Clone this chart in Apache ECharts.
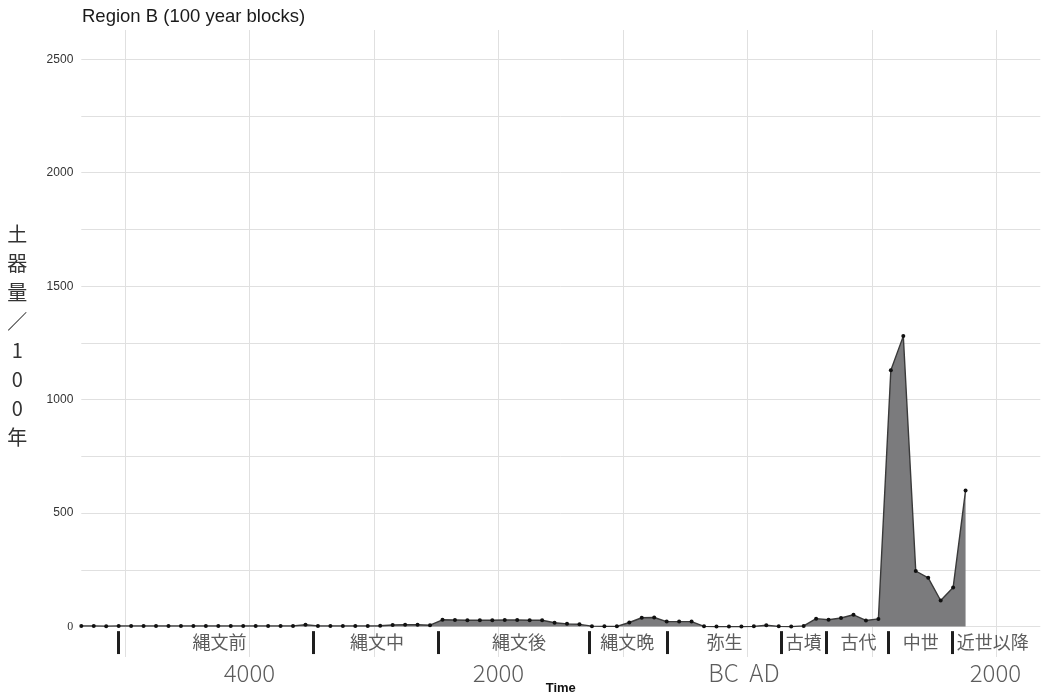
<!DOCTYPE html>
<html><head><meta charset="utf-8">
<script src="https://cdn.jsdelivr.net/npm/echarts@6/dist/echarts.min.js"></script>
<style>html,body{margin:0;padding:0;background:#fff}#c{width:1041px;height:700px}</style>
</head><body><div id="c"></div>
<script>
const years = [
  -5350,-5250,-5150,-5050,-4950,-4850,-4750,-4650,-4550,-4450,
  -4350,-4250,-4150,-4050,-3950,-3850,-3750,-3650,-3550,-3450,
  -3350,-3250,-3150,-3050,-2950,-2850,-2750,-2650,-2550,-2450,
  -2350,-2250,-2150,-2050,-1950,-1850,-1750,-1650,-1550,-1450,
  -1350,-1250,-1150,-1050,-950,-850,-750,-650,-550,-450,
  -350,-250,-150,-50,50,150,250,350,450,550,
  650,750,850,950,1050,1150,1250,1350,1450,1550,
  1650,1750
];
const counts = [
  3,3,2,3,3,3,3,3,3,3,
  3,3,3,3,3,3,3,3,8,3,
  3,3,3,3,4,7,8,8,6,30,
  29,28,28,28,29,29,28,28,17,12,
  10,2,1,1,18,39,40,22,22,22,
  1,0,0,0,1,6,1,0,3,35,
  30,38,52,27,34,1130,1280,245,215,115,
  172,600
];
const yTickLabels = [0,500,1000,1500,2000,2500];
const yGridValues = [0,250,500,750,1000,1250,1500,1750,2000,2250,2500];
const xGridYears = [-5000,-4000,-3000,-2000,-1000,0,1000,2000];
const periodNames = ['縄文前','縄文中','縄文後','縄文晩','弥生','古墳','古代','中世','近世以降'];
const periodLabelYears = [-4240,-2975,-1835,-967,-186,450,890,1391,1969];
const periodBoundaryYears = [-5050,-3485,-2480,-1268,-645,270,633,1133,1642];
const eraLabels = ['4000','2000','BC  AD','2000'];
const eraLabelYears = [-4000,-2000,-30,1990];

const Y_MIN = -134, Y_MAX = 2629;
const PERIOD_LABEL_Y = -69, BAR_TOP = -20, BAR_BOTTOM = -121, ERA_Y = -204;

const chart = echarts.init(document.getElementById('c'), null, {renderer: 'canvas'});
const gridLineStyle = {color: '#e0e0e0', width: 1, type: 'solid'};

chart.setOption({
  animation: false,
  backgroundColor: '#ffffff',
  title: {
    text: 'Region B (100 year blocks)',
    left: 77, top: 2,
    textStyle: {fontFamily: 'Liberation Sans, Arial, sans-serif', fontSize: 18.5, fontWeight: 'normal', color: '#1a1a1a'}
  },
  grid: {left: 81.3, right: 0.7, top: 30, bottom: 43, containLabel: false},
  xAxis: {
    type: 'value', min: -5350, max: 2350,
    axisLine: {show: false}, axisTick: {show: false}, axisLabel: {show: false}, splitLine: {show: false},
    name: 'Time', nameLocation: 'middle', nameGap: 25,
    nameTextStyle: {fontFamily: 'Liberation Sans, Arial, sans-serif', fontSize: 13, fontWeight: 'bold', color: '#111'}
  },
  yAxis: {
    type: 'value', min: Y_MIN, max: Y_MAX,
    axisLine: {show: false}, axisTick: {show: false}, splitLine: {show: false},
    axisLabel: {
      customValues: yTickLabels, margin: 8, fontSize: 12, color: '#333',
      fontFamily: 'Liberation Sans, Arial, sans-serif',
      formatter: v => v === 0 ? '{s|0}' : String(v),
      rich: {s: {fontFamily: 'Liberation Serif, serif', fontSize: 12, color: '#333'}}
    },
    name: '{n|土}\n{n|器}\n{n|量}\n{n|／}\n{n|1}\n{n|0}\n{n|0}\n{n|年}\n{e| }',
    nameLocation: 'middle', nameRotate: 0, nameGap: 64,
    nameTextStyle: {
      align: 'center',
      rich: {
        n: {fontFamily: 'Noto Sans CJK JP, sans-serif', fontSize: 20, lineHeight: 29, color: '#333', align: 'center'},
        e: {fontSize: 10, lineHeight: 16}
      }
    }
  },
  series: [
    {
      type: 'line', data: [], z: 1, silent: true,
      markLine: {
        silent: true, symbol: 'none', animation: false, label: {show: false}, z: 1,
        lineStyle: gridLineStyle,
        data: yGridValues.map(v => ({yAxis: v})).concat(xGridYears.map(v => ({xAxis: v})))
      }
    },
    {
      type: 'line', z: 3,
      data: years.map((y, i) => [y, counts[i]]),
      symbol: 'circle', symbolSize: 4, showSymbol: true,
      itemStyle: {color: '#111'},
      lineStyle: {color: '#3a3a3a', width: 1.4},
      areaStyle: {color: '#7b7b7d', opacity: 1, origin: 0},
      markLine: {
        silent: true, symbol: 'none', animation: false, label: {show: false}, z: 5,
        lineStyle: {color: '#1e1e1e', width: 3, type: 'solid'},
        data: periodBoundaryYears.map(x => [{coord: [x, BAR_TOP]}, {coord: [x, BAR_BOTTOM]}])
      }
    },
    {
      type: 'scatter', z: 4, silent: true, clip: false, symbolSize: 0,
      data: periodNames.map((n, i) => ({value: [periodLabelYears[i], PERIOD_LABEL_Y], name: n})),
      label: {show: true, position: 'inside', formatter: p => p.name,
        fontFamily: 'Noto Sans CJK JP, sans-serif', fontSize: 18, color: '#333'}
    },
    {
      type: 'scatter', z: 4, silent: true, clip: false, symbolSize: 0,
      data: eraLabels.map((n, i) => ({value: [eraLabelYears[i], ERA_Y], name: n})),
      label: {show: true, position: 'inside', formatter: p => p.name,
        fontFamily: 'Noto Sans CJK JP, sans-serif', fontSize: 24, fontWeight: 300, color: '#333'}
    }
  ]
});
</script></body></html>
